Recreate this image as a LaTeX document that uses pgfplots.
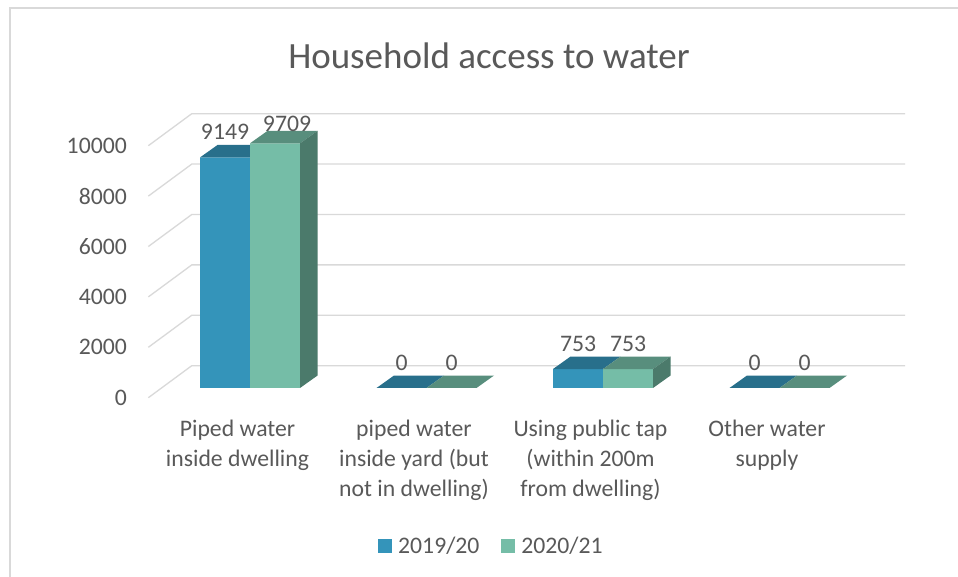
\documentclass[border=0pt]{standalone}
\usepackage{pgfplots}
\pgfplotsset{compat=1.18}
\usepackage{pgfplotstable}
\usepackage{fontspec}
\setmainfont{Carlito}
\definecolor{txt}{HTML}{595959}
\definecolor{bfront}{HTML}{3494BA}
\definecolor{btop}{HTML}{286F8B}
\definecolor{gfront}{HTML}{75BDA7}
\definecolor{gtop}{HTML}{588E7D}
\definecolor{gside}{HTML}{4B7A6B}
\definecolor{gridc}{HTML}{D9D9D9}

% dx, dy: label offsets (pt) from the bar's category position
\pgfplotstableread{
x y dx dy
0 9149 -25 17.5
1 0 -25 17.5
2 753 -25 17.5
3 0 -25 17.5
}\tblA
\pgfplotstableread{
x y dx dy
0 9709 37 12
1 0 25 17.5
2 753 25 17.5
3 0 25 17.5
}\tblB

\begin{document}
\begin{tikzpicture}
\path[use as bounding box, fill=white] (0pt,0pt) rectangle (958pt,577pt);
\draw[gridc, line width=1.5pt] (10pt,0pt) -- (10pt,569pt) -- (958pt,569pt);
\node[anchor=base, text=txt, font=\fontsize{37}{44}\selectfont, inner sep=0pt] at (489pt,508pt) {Household access to water};
\begin{axis}[
 at={(127pt,157pt)}, anchor=south west,
 scale only axis, width=778pt, height=309.2pt,
 xmin=-0.697, xmax=3.711, ymin=-1270, ymax=11000,
 clip=false,
 axis line style={draw=none},
 major tick length=0pt,
 scaled y ticks=false,
 ytick={-385,1615,3615,5615,7615,9615},
 yticklabels={0,2000,4000,6000,8000,10000},
 xtick={-0.071,0.929,1.929,2.929},
 xticklabels={{Piped water\\inside dwelling},{piped water\\inside yard (but\\not in dwelling)},{Using public tap\\(within 200m\\from dwelling)},{Other water\\supply}},
 xticklabel style={align=center, anchor=north, inner sep=0pt},
 yticklabel style={anchor=east, inner sep=0pt},
 tick label style={text=txt, font=\fontsize{23.7}{30}\selectfont},
 /pgf/number format/assume math mode=true,
 /pgf/number format/1000 sep={},
 legend style={at={(0.471,-0.4075)}, anchor=center, draw=none, fill=none,
   legend columns=2, font=\fontsize{23.7}{30}\selectfont, text=txt, inner sep=0pt,
   nodes={inner xsep=6pt, inner ysep=0pt},
   /tikz/every even column/.append style={column sep=16pt}},
]
% gridlines (front end, back wall corner, back wall right end)
\addplot[gridc, line width=1.3pt, forget plot] coordinates {(-0.576,-385) (-0.330,885) (3.711,885)};
\addplot[gridc, line width=1.3pt, forget plot] coordinates {(-0.576,1615) (-0.330,2885) (3.711,2885)};
\addplot[gridc, line width=1.3pt, forget plot] coordinates {(-0.576,3615) (-0.330,4885) (3.711,4885)};
\addplot[gridc, line width=1.3pt, forget plot] coordinates {(-0.576,5615) (-0.330,6885) (3.711,6885)};
\addplot[gridc, line width=1.3pt, forget plot] coordinates {(-0.576,7615) (-0.330,8885) (3.711,8885)};
\addplot[gridc, line width=1.3pt, forget plot] coordinates {(-0.576,9615) (-0.330,10885) (3.711,10885)};

% 2019/20 front faces
\addplot[ybar, bar width=50pt, bar shift=-25pt, fill=bfront, draw=none,
  nodes near coords,
  visualization depends on={\thisrow{dx}\as\ldx},
  visualization depends on={\thisrow{dy}\as\ldy},
  every node near coord/.append style={anchor=base, inner sep=0pt, text=txt,
     font=\fontsize{23.7}{30}\selectfont, xshift=\ldx, yshift=\ldy},
  legend image code/.code={\fill[bfront] (0pt,-7pt) rectangle (14pt,7pt);}]
  table[x=x,y=y]{\tblA};
\addlegendentry{2019/20}
% 2019/20 top faces
\addplot[fill=btop, draw=none, forget plot] coordinates {(-0.2833,9149) (0,9149) (0.0992,9644) (-0.1841,9644)};
\addplot[fill=btop, draw=none, forget plot] coordinates {(0.7167,0) (1,0) (1.0992,495) (0.8159,495)};
\addplot[fill=btop, draw=none, forget plot] coordinates {(1.7167,753) (2,753) (2.0992,1248) (1.8159,1248)};
\addplot[fill=btop, draw=none, forget plot] coordinates {(2.7167,0) (3,0) (3.0992,495) (2.8159,495)};

% 2020/21 front faces
\addplot[ybar, bar width=50pt, bar shift=25pt, fill=gfront, draw=none,
  nodes near coords,
  visualization depends on={\thisrow{dx}\as\ldx},
  visualization depends on={\thisrow{dy}\as\ldy},
  every node near coord/.append style={anchor=base, inner sep=0pt, text=txt,
     font=\fontsize{23.7}{30}\selectfont, xshift=\ldx, yshift=\ldy},
  legend image code/.code={\fill[gfront] (0pt,-7pt) rectangle (14pt,7pt);}]
  table[x=x,y=y]{\tblB};
\addlegendentry{2020/21}
% 2020/21 top faces
\addplot[fill=gtop, draw=none, forget plot] coordinates {(0,9709) (0.2833,9709) (0.3825,10204) (0.0992,10204)};
\addplot[fill=gtop, draw=none, forget plot] coordinates {(1,0) (1.2833,0) (1.3825,495) (1.0992,495)};
\addplot[fill=gtop, draw=none, forget plot] coordinates {(2,753) (2.2833,753) (2.3825,1248) (2.0992,1248)};
\addplot[fill=gtop, draw=none, forget plot] coordinates {(3,0) (3.2833,0) (3.3825,495) (3.0992,495)};
% 2020/21 side faces
\addplot[fill=gside, draw=none, forget plot] coordinates {(0.2833,0) (0.3825,495) (0.3825,10204) (0.2833,9709)};
\addplot[fill=gside, draw=none, forget plot] coordinates {(2.2833,0) (2.3825,495) (2.3825,1248) (2.2833,753)};
\end{axis}
\end{tikzpicture}
\end{document}
